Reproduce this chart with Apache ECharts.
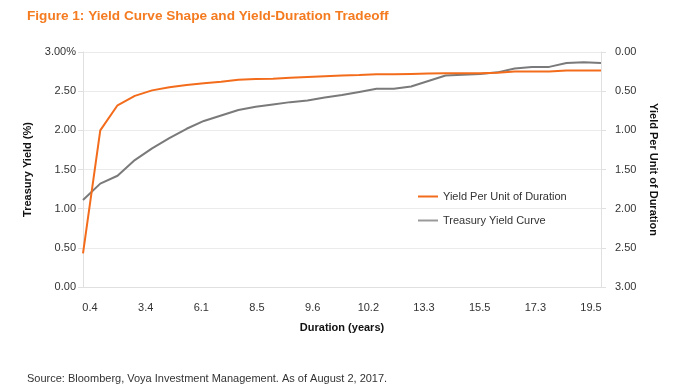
<!DOCTYPE html>
<html>
<head>
<meta charset="utf-8">
<script src="https://cdn.jsdelivr.net/npm/echarts@6/dist/echarts.min.js"></script>
<style>
html,body{margin:0;padding:0;background:#fff;}
#chart{width:673px;height:392px;}
</style>
</head>
<body>
<div id="chart"></div>
<script>
// Data points (31 observations along the curve)
const pointIds = ["1","2","3","4","5","6","7","8","9","10","11","12","13","14","15","16","17","18","19","20","21","22","23","24","25","26","27","28","29","30","31"];
// Treasury Yield Curve (%) - left axis
const treasuryYield = [1.11,1.32,1.42,1.62,1.77,1.90,2.02,2.12,2.19,2.26,2.30,2.33,2.36,2.38,2.42,2.45,2.49,2.53,2.53,2.56,2.63,2.70,2.71,2.72,2.74,2.79,2.81,2.81,2.86,2.87,2.86];
// Yield Per Unit of Duration - right (inverted) axis
const yieldPerDuration = [2.57,1.00,0.68,0.56,0.49,0.45,0.42,0.40,0.38,0.355,0.345,0.34,0.33,0.32,0.31,0.30,0.295,0.285,0.285,0.28,0.275,0.27,0.27,0.27,0.265,0.25,0.25,0.25,0.235,0.235,0.235];
// Duration tick labels (years)
const durationTicks = ["0.4","3.4","6.1","8.5","9.6","10.2","13.3","15.5","17.3","19.5"];

const ORANGE = '#f36c1c';
const GRAY = '#7a7a7a';
const FONT = 'Liberation Sans, Arial, sans-serif';
const chart = echarts.init(document.getElementById('chart'), null, {renderer:'canvas'});
chart.setOption({
  backgroundColor:'#fff',
  animation:false,
  textStyle:{fontFamily:FONT},
  title:[
    {text:'Figure 1: Yield Curve Shape and Yield-Duration Tradeoff', left:22, top:4,
     textStyle:{color:'#f47b20', fontSize:13.6, fontWeight:'bold', fontFamily:FONT}},
    {text:'Source: Bloomberg, Voya Investment Management. As of August 2, 2017.', left:22, top:368,
     textStyle:{color:'#333', fontSize:11, fontWeight:'normal', fontFamily:FONT}}
  ],
  legend:{
    orient:'vertical', left:413, top:186, itemGap:13, itemWidth:20, itemHeight:2,
    icon:'rect',
    textStyle:{color:'#333', fontSize:11, fontFamily:FONT},
    data:['Yield Per Unit of Duration','Treasury Yield Curve']
  },
  grid:[
    {left:83, right:72, top:52, bottom:105},
    {left:90, right:82, top:52, bottom:105}
  ],
  xAxis:[
    {type:'category', gridIndex:0, data:pointIds, boundaryGap:false,
     axisLine:{show:true, lineStyle:{color:'#e0e0e0'}}, axisTick:{show:false}, axisLabel:{show:false},
     name:'Duration (years)', nameLocation:'middle', nameGap:35,
     nameTextStyle:{color:'#111', fontSize:11, fontWeight:'bold', fontFamily:FONT}},
    {type:'category', gridIndex:1, data:durationTicks, boundaryGap:false,
     axisLine:{show:false}, axisTick:{show:false},
     axisLabel:{color:'#333', fontSize:11, margin:15, interval:0, fontFamily:FONT}}
  ],
  yAxis:[
    {type:'value', gridIndex:0, min:0, max:3, interval:0.5, position:'left',
     axisLine:{show:true, lineStyle:{color:'#e0e0e0'}},
     axisTick:{show:true, length:5, lineStyle:{color:'#e0e0e0'}},
     splitLine:{show:true, lineStyle:{color:'#ebebeb'}},
     axisLabel:{color:'#333', fontSize:11, margin:7, fontFamily:FONT,
       formatter:v=> v===3 ? '3.00%' : v.toFixed(2)},
     name:'Treasury Yield (%)', nameLocation:'middle', nameGap:43, nameRotate:90,
     nameTextStyle:{color:'#111', fontSize:11, fontWeight:'bold', fontFamily:FONT}},
    {type:'value', gridIndex:0, min:0, max:3, interval:0.5, position:'right', inverse:true,
     axisLine:{show:true, lineStyle:{color:'#e0e0e0'}},
     axisTick:{show:true, length:5, lineStyle:{color:'#e0e0e0'}},
     splitLine:{show:false},
     axisLabel:{color:'#333', fontSize:11, margin:14, fontFamily:FONT, formatter:v=>v.toFixed(2)},
     name:'Yield Per Unit of Duration', nameLocation:'middle', nameGap:44, nameRotate:-90,
     nameTextStyle:{color:'#111', fontSize:11, fontWeight:'bold', fontFamily:FONT}},
    {type:'value', gridIndex:1, show:false, min:0, max:3}
  ],
  series:[
    {name:'Yield Per Unit of Duration', type:'line', xAxisIndex:0, yAxisIndex:1,
     data:yieldPerDuration, showSymbol:false, symbol:'none',
     lineStyle:{color:ORANGE, width:2}, itemStyle:{color:ORANGE}, z:3},
    {name:'Treasury Yield Curve', type:'line', xAxisIndex:0, yAxisIndex:0,
     data:treasuryYield, showSymbol:false, symbol:'none',
     lineStyle:{color:GRAY, width:2}, itemStyle:{color:'#9a9a9a'}, z:2}
  ]
});
</script>
</body>
</html>
